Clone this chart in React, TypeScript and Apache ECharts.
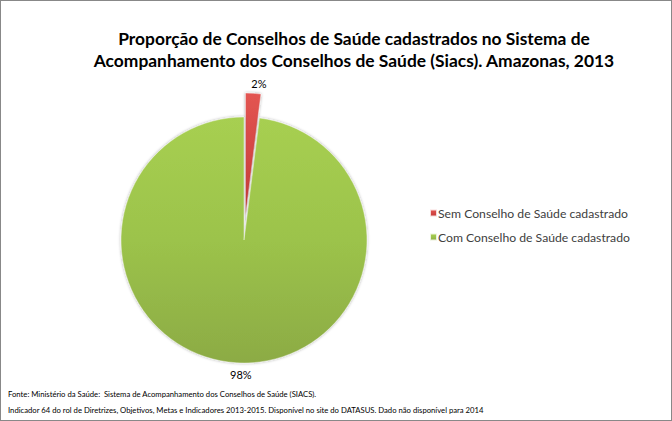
import React, { useEffect, useRef } from "react";
import * as echarts from "echarts";

const categories = ["Sem Conselho de Saúde cadastrado", "Com Conselho de Saúde cadastrado"];
const values = [2, 98];
const titleLines = [
  "Proporção de Conselhos de Saúde cadastrados no Sistema de",
  "Acompanhamento dos Conselhos de Saúde (Siacs). Amazonas, 2013",
];
const footerLines = [
  "Fonte: Ministério da Saúde:  Sistema de Acompanhamento dos Conselhos de Saúde (SIACS).",
  "Indicador 64 do rol de Diretrizes, Objetivos, Metas e Indicadores 2013-2015. Disponível no site do DATASUS. Dado não disponível para 2014",
];

const FONT = "Lato, 'Liberation Sans', sans-serif";

export default function App() {
  const ref = useRef<HTMLDivElement>(null);
  useEffect(() => {
    document.body.style.margin = "0";
    const chart = echarts.init(ref.current!, null, { renderer: "svg" });
    const red = new echarts.graphic.LinearGradient(0, 0, 0, 1, [
      { offset: 0, color: "#E35552" },
      { offset: 1, color: "#C43A37" },
    ]);
    const green = new echarts.graphic.LinearGradient(0, 0, 0, 1, [
      { offset: 0, color: "#A7CF51" },
      { offset: 0.5, color: "#9CC34B" },
      { offset: 1, color: "#8CAB44" },
    ]);
    const colors = [red, green];
    const labelNudgeX = [-8, 21];
    const labelNudgeY = [0, 2];
    chart.setOption({
      animation: false,
      backgroundColor: "#ffffff",
      title: [
        {
          text: titleLines.join("\n"),
          left: 353,
          textAlign: "center",
          top: 26,
          padding: 0,
          textStyle: { fontFamily: FONT, fontWeight: "bold", fontSize: 17.4, color: "#000", lineHeight: 22 },
        },
        {
          text: footerLines.join("\n"),
          left: 7,
          top: 385,
          padding: 0,
          textStyle: { fontFamily: FONT, fontWeight: "normal", fontSize: 7.7, color: "#000", lineHeight: 16 },
        },
      ],
      legend: {
        orient: "vertical",
        left: 428,
        top: 206,
        padding: 0,
        itemWidth: 7,
        itemHeight: 7,
        itemGap: 12,
        icon: "rect",
        data: categories,
        textStyle: { fontFamily: FONT, fontSize: 12.2, color: "#404040", padding: [0, 0, 0, -4] },
      },
      series: [
        {
          type: "pie",
          center: [243, 239],
          radius: 123,
          startAngle: 90,
          clockwise: true,
          selectedMode: "single",
          selectedOffset: 24,
          percentPrecision: 0,
          label: {
            show: true,
            position: "outside",
            formatter: "{d}%",
            fontFamily: FONT,
            fontSize: 11,
            color: "#000",
          },
          labelLine: { show: false, length: 10, length2: 0 },
          labelLayout: (p: any) => {
            const r = p.labelRect;
            return {
              x: r.x + r.width / 2 + labelNudgeX[p.dataIndex],
              y: r.y + r.height / 2 + labelNudgeY[p.dataIndex],
              align: "center",
              verticalAlign: "middle",
            };
          },
          itemStyle: {
            borderColor: "rgba(255,255,255,0.8)",
            borderWidth: 0.5,
            shadowColor: "rgba(0,0,0,0.35)",
            shadowBlur: 3,
          },
          emphasis: { disabled: true },
          data: categories.map((name, i) => ({
            name,
            value: values[i],
            selected: i === 0,
            itemStyle: { color: colors[i] },
          })),
        },
      ],
    });
    return () => chart.dispose();
  }, []);
  return (
    <div
      ref={ref}
      style={{ width: 672, height: 421, boxSizing: "border-box", border: "1px solid #888" }}
    />
  );
}
